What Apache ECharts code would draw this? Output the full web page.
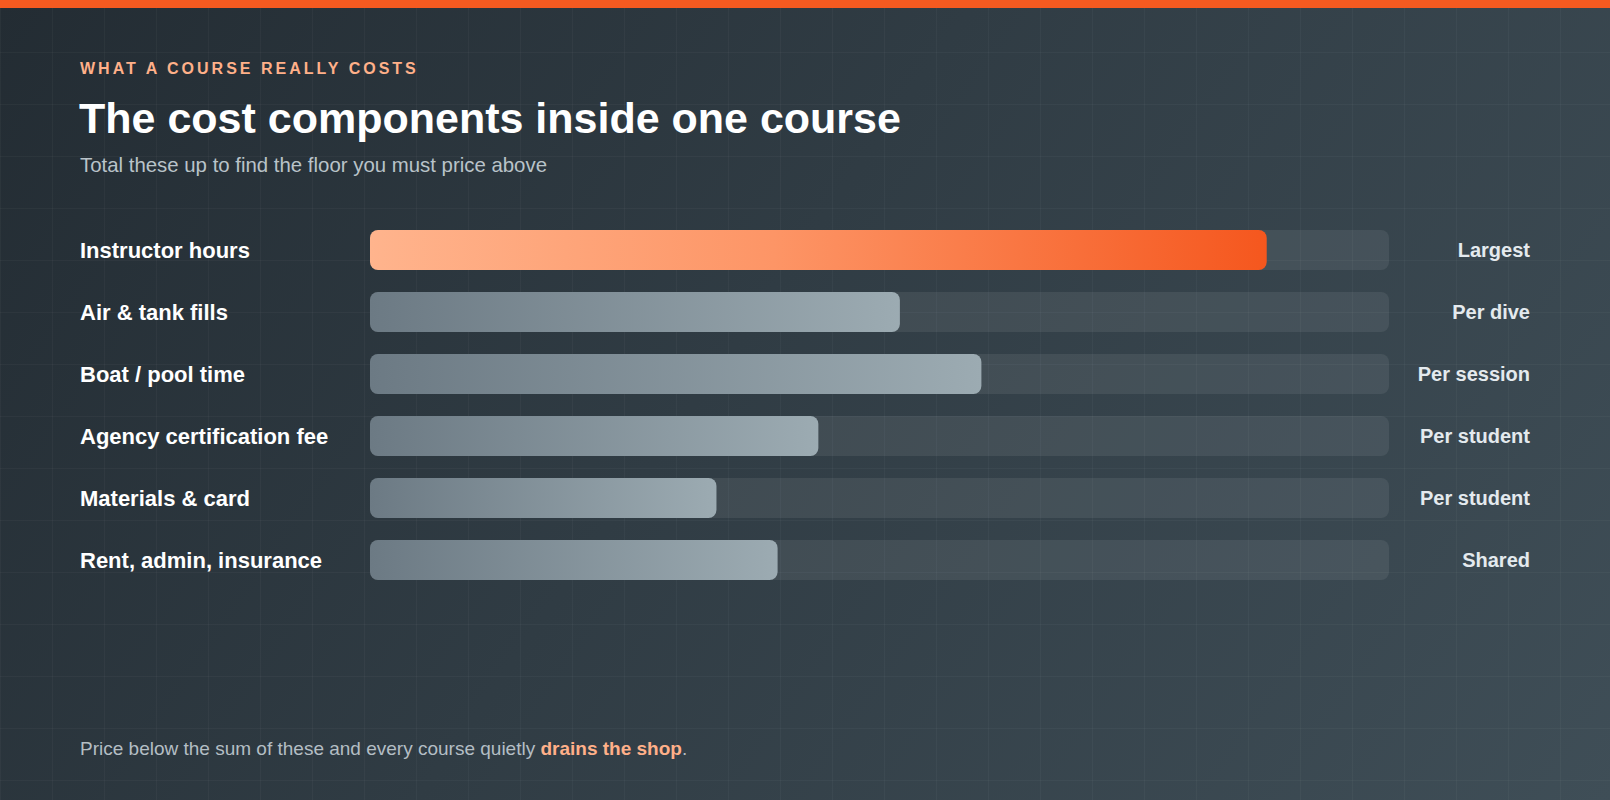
<!DOCTYPE html>
<html>
<head>
<meta charset="utf-8">
<title>The cost components inside one course</title>
<script src="https://cdn.jsdelivr.net/npm/echarts@6/dist/echarts.min.js"></script>
<style>
    html, body {
        margin: 0;
        padding: 0;
        width: 1610px;
        height: 800px;
        overflow: hidden;
    }
    body {
        background-color: #2c373e;
        background-image:
            linear-gradient(rgba(255, 255, 255, 0.03) 1px, transparent 1px),
            linear-gradient(90deg, rgba(255, 255, 255, 0.03) 1px, transparent 1px),
            linear-gradient(125deg, #232c33 0%, #303c44 45%, #3f4e57 100%);
        background-size: 52px 52px, 52px 52px, 100% 100%;
    }
    #chart {
        width: 1610px;
        height: 800px;
    }
    /* echarts 的 svg 文本没有字距设置，用 css 补上 */
    #chart text[style*="kicker"] {
        letter-spacing: 3px;
    }
</style>
</head>
<body>
<div id="chart"></div>
<script>
/* 课程成本构成 横向条形图 */

const categories = [
    'Instructor hours',
    'Air & tank fills',
    'Boat / pool time',
    'Agency certification fee',
    'Materials & card',
    'Rent, admin, insurance'
];
const shares = [88, 52, 60, 44, 34, 40];   // 条长（占满轨道的百分比）
const notes = ['Largest', 'Per dive', 'Per session', 'Per student', 'Per student', 'Shared'];

const FONT = "'Liberation Sans', Arial, sans-serif";

function barColor(i) {
    if (i === 0) {
        return new echarts.graphic.LinearGradient(0, 0, 1, 0, [
            { offset: 0, color: '#ffb48d' },
            { offset: 0.45, color: '#fd9566' },
            { offset: 1, color: '#f5571e' }
        ]);
    }
    return new echarts.graphic.LinearGradient(0, 0, 1, 0, [
        { offset: 0, color: '#6c7a84' },
        { offset: 1, color: '#9cabb2' }
    ]);
}

let barData = shares.map((v, i) => ({
    value: v,
    itemStyle: { color: barColor(i) }
}));

let graphic = [
    {
        type: 'rect',
        shape: { x: 0, y: 0, width: 1610, height: 8 },
        style: { fill: '#f55a20' },
        silent: true
    },
    {
        type: 'text',
        x: 80, y: 68,
        style: {
            text: 'WHAT A COURSE REALLY COSTS',
            font: "bold 16px 'Liberation Sans', kicker, Arial, sans-serif",
            fill: '#ffb089',
            verticalAlign: 'middle'
        }
    },
    {
        type: 'text',
        x: 79, y: 118,
        style: {
            text: 'The cost components inside one course',
            font: 'bold 43px ' + FONT,
            fill: '#ffffff',
            verticalAlign: 'middle'
        }
    },
    {
        type: 'text',
        x: 80, y: 165,
        style: {
            text: 'Total these up to find the floor you must price above',
            font: '20.4px ' + FONT,
            fill: '#b9c3c9',
            verticalAlign: 'middle'
        }
    },
    {
        type: 'text',
        x: 80, y: 748,
        style: {
            text: '{a|Price below the sum of these and every course quietly }{b|drains the shop}{a|.}',
            verticalAlign: 'middle',
            rich: {
                a: { fontSize: 19, fontFamily: FONT, fill: '#b4bec4' },
                b: { fontSize: 19, fontFamily: FONT, fontWeight: 'bold', fill: '#ffb089' }
            }
        }
    }
];

let option = {
    animation: false,
    backgroundColor: 'transparent',
    grid: { left: 370, right: 221, top: 219, height: 372, containLabel: false },
    xAxis: {
        type: 'value',
        min: 0,
        max: 100,
        show: false
    },
    yAxis: [
        {
            type: 'category',
            data: categories,
            inverse: true,
            axisLine: { show: false },
            axisTick: { show: false },
            splitLine: { show: false },
            axisLabel: {
                margin: 290,
                align: 'left',
                color: '#ffffff',
                fontSize: 22,
                fontWeight: 'bold',
                fontFamily: FONT
            }
        },
        {
            type: 'category',
            data: categories,
            inverse: true,
            position: 'right',
            axisLine: { show: false },
            axisTick: { show: false },
            splitLine: { show: false },
            axisLabel: {
                margin: 141,
                align: 'right',
                color: '#e4eaee',
                fontSize: 20,
                fontWeight: 'bold',
                fontFamily: FONT,
                formatter: (v, i) => notes[i]
            }
        }
    ],
    series: [{
        type: 'bar',
        data: barData,
        barWidth: 40,
        showBackground: true,
        backgroundStyle: {
            color: 'rgba(255, 255, 255, 0.075)',
            borderRadius: 8
        },
        itemStyle: { borderRadius: 8 },
        silent: true
    }],
    graphic: graphic
};

let chart = echarts.init(document.getElementById('chart'), null, { renderer: 'svg' });
chart.setOption(option);
</script>
</body>
</html>
